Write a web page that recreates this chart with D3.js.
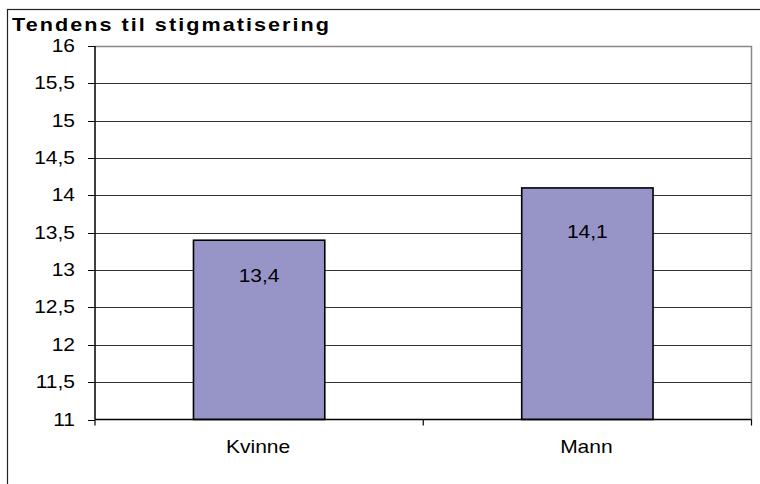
<!DOCTYPE html>
<html><head><meta charset="utf-8">
<script src="https://cdn.jsdelivr.net/npm/d3@7"></script>
<style>body{margin:0;background:#fff}svg{display:block}text{font-family:"Liberation Sans",Arial,sans-serif;fill:#000}</style>
</head><body>
<svg id="c" width="760" height="484"></svg>
<script>
const title = "Tendens til stigmatisering";
const categories = ["Kvinne", "Mann"];
const values = [13.4, 14.1];
const valueLabels = ["13,4", "14,1"];
const yTicks = [11, 11.5, 12, 12.5, 13, 13.5, 14, 14.5, 15, 15.5, 16];
const yTickLabels = ["11", "11,5", "12", "12,5", "13", "13,5", "14", "14,5", "15", "15,5", "16"];

const svg = d3.select("#c");
const L = 95, R = 751.5, T = 46, B = 419.5;
const x = d3.scaleBand().domain(categories).range([L, R]).paddingInner(0.6).paddingOuter(0.3);
const y = d3.scaleLinear().domain([11, 16]).range([B, T]);
const SX = 1.2;

function stext(g, tx, ty, s, anchor, size, weight, ls) {
  const t = g.append("g").attr("transform", `translate(${tx},${ty}) scale(${SX},1)`)
    .append("text").attr("text-anchor", anchor).style("font-size", size + "px").text(s);
  if (weight) t.style("font-weight", weight);
  if (ls) t.style("letter-spacing", ls + "px");
  return t;
}

// outer frame
svg.append("rect").attr("x", 7.5).attr("y", 9.5).attr("width", 800).attr("height", 500)
  .attr("fill", "none").attr("stroke", "#222").attr("stroke-width", 1.2);

// title
stext(svg, 12, 31, title, "start", 18, "bold", 1.7);

// plot frame (top, right) gray
svg.append("path").attr("d", `M${L},${T + 0.5}H${R}V${B}`).attr("fill", "none")
  .attr("stroke", "#888").attr("stroke-width", 1.5);

// gridlines
svg.append("g").selectAll("line").data(yTicks.filter(v => v > 11 && v < 16)).join("line")
  .attr("x1", L).attr("x2", R).attr("y1", d => Math.round(y(d)) + 0.5).attr("y2", d => Math.round(y(d)) + 0.5)
  .attr("stroke", "#333").attr("stroke-width", 1);

// bars
svg.append("g").selectAll("rect").data(values).join("rect")
  .attr("x", (d, i) => x(categories[i])).attr("width", x.bandwidth())
  .attr("y", d => y(d)).attr("height", d => B - y(d))
  .attr("fill", "#9794c8").attr("stroke", "#000").attr("stroke-width", 1.6);

// value labels
const labelDy = [42, 50];
values.forEach((v, i) => {
  stext(svg, x(categories[i]) + x.bandwidth() / 2, y(v) + labelDy[i], valueLabels[i], "middle", 17.5);
});

// y axis
const yAxis = svg.append("g");
yAxis.append("line").attr("x1", L).attr("x2", L).attr("y1", T).attr("y2", B).attr("stroke", "#000").attr("stroke-width", 1.5);
yTicks.forEach((v, i) => {
  const yy = Math.round(y(v)) + 0.5;
  yAxis.append("line").attr("x1", L - 7).attr("x2", L).attr("y1", yy).attr("y2", yy).attr("stroke", "#000");
  stext(yAxis, 75, yy + 5.5, yTickLabels[i], "end", 17.5);
});

// x axis
const xAxis = svg.append("g");
xAxis.append("line").attr("x1", L).attr("x2", R).attr("y1", B).attr("y2", B).attr("stroke", "#000").attr("stroke-width", 1.5);
const step = x.step();
const bounds = [L, L + x.paddingOuter() * step - x.paddingInner() * step / 2 + step, R];
bounds.forEach(bx => {
  xAxis.append("line").attr("x1", bx).attr("x2", bx).attr("y1", B).attr("y2", B + 6).attr("stroke", "#000").attr("stroke-width", 1.2);
});
categories.forEach(c => {
  stext(xAxis, x(c) + x.bandwidth() / 2 - 1, 453, c, "middle", 17.5);
});
</script>
</body></html>
